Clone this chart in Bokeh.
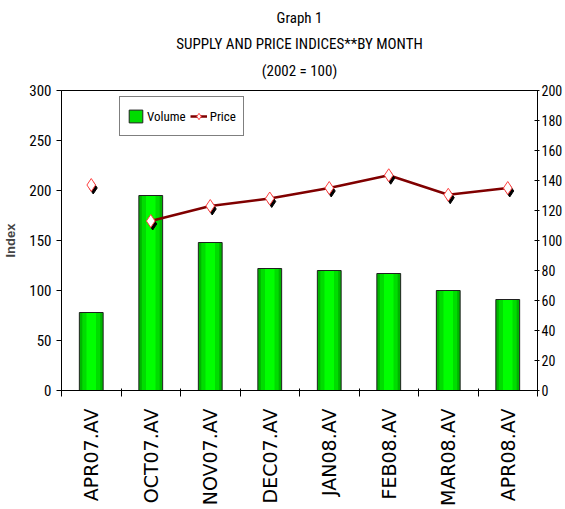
import math
from bokeh.plotting import figure
from bokeh.models import Range1d, LinearAxis, FixedTicker, Legend, LegendItem, Title
from bokeh.embed import file_html
from bokeh.resources import INLINE

# ---- data ----
months = ["APR07.AV", "OCT07.AV", "NOV07.AV", "DEC07.AV",
          "JAN08.AV", "FEB08.AV", "MAR08.AV", "APR08.AV"]
volume = [78, 195, 148, 122, 120, 117, 100, 91]
price = [137, 113, 123, 128, 135, 143.5, 130.5, 135]
left_ticks = [0, 50, 100, 150, 200, 250, 300]
right_ticks = [0, 20, 40, 60, 80, 100, 120, 140, 160, 180, 200]
title_lines = ["Graph 1", "SUPPLY AND PRICE INDICES**BY MONTH", "(2002 = 100)"]
y_label = "Index"
series_names = ["Volume", "Price"]

NARROW = "Roboto Condensed, Liberation Sans Narrow, DejaVu Sans Condensed, sans-serif"

n = len(months)
xs = list(range(1, n + 1))

p = figure(width=565, height=509, output_backend="svg", toolbar_location=None,
           x_range=Range1d(0.5, n + 0.5), y_range=Range1d(left_ticks[0], left_ticks[-1]),
           min_border_left=60, min_border_right=27, min_border_top=90,
           min_border_bottom=117)
p.extra_y_ranges = {"price": Range1d(right_ticks[0], right_ticks[-1])}
p.grid.visible = False
p.outline_line_color = "#000000"
p.outline_line_width = 1
p.background_fill_color = "white"
p.border_fill_color = "white"

# x axis: labels at category centres, tick marks at category boundaries
xa = p.xaxis[0]
xa.ticker = FixedTicker(ticks=xs, minor_ticks=[i + 0.5 for i in range(n + 1)])
xa.major_label_overrides = {x: m for x, m in zip(xs, months)}
xa.major_label_orientation = math.pi / 2
xa.major_tick_in = 0
xa.major_tick_out = 0
xa.minor_tick_in = 2
xa.minor_tick_out = 6
xa.minor_tick_line_color = "#000000"
xa.axis_line_color = "#000000"
xa.major_label_standoff = 12
xa.major_label_text_font = "DejaVu Sans"
xa.major_label_text_font_size = "19px"
xa.major_label_text_color = "#000000"

# left axis
ya = p.yaxis[0]
ya.ticker = FixedTicker(ticks=left_ticks)
ya.major_tick_in = 0
ya.major_tick_out = 5
ya.minor_tick_in = 0
ya.minor_tick_out = 0
ya.axis_line_color = "#000000"
ya.major_tick_line_color = "#000000"
ya.major_label_standoff = 5
ya.major_label_text_font = NARROW
ya.major_label_text_font_size = "15px"
ya.major_label_text_color = "#000000"
ya.axis_label = y_label
ya.axis_label_text_font = "Liberation Sans"
ya.axis_label_text_font_style = "bold"
ya.axis_label_text_font_size = "13px"
ya.axis_label_standoff = 8

# right axis
ra = LinearAxis(y_range_name="price", ticker=FixedTicker(ticks=right_ticks))
ra.major_tick_in = 3
ra.major_tick_out = 2
ra.minor_tick_in = 0
ra.minor_tick_out = 0
ra.axis_line_color = "#000000"
ra.major_tick_line_color = "#000000"
ra.major_label_standoff = 2
ra.major_label_text_font = NARROW
ra.major_label_text_font_size = "14px"
ra.major_label_text_color = "#000000"
p.add_layout(ra, "right")

# bars with a simple horizontal shading
bar_outer = p.vbar(x=xs, top=volume, width=0.4, bottom=0, fill_color="#00B400", line_color=None)
bar_mid = p.vbar(x=xs, top=volume, width=0.3, bottom=0, fill_color="#00DC00", line_color=None)
bar_inner = p.vbar(x=xs, top=volume, width=0.16, bottom=0, fill_color="#00FF00", line_color=None)
bar_edge = p.vbar(x=xs, top=volume, width=0.4, bottom=0, fill_color=None,
                  line_color="#202020", line_width=1)

# price line (not joined to the first month)
price_line = p.line(xs[1:], price[1:], y_range_name="price",
                    line_color="#800000", line_width=2.5)

# marker shadows (2px right, 3px down)
dx = 2 / 60.0
dy = 3 * (right_ticks[-1] - right_ticks[0]) / 302.0
p.scatter([x + dx for x in xs], [v - dy for v in price], y_range_name="price",
          marker="diamond", size=12, fill_color="#000000", line_color="#000000")
price_pts = p.scatter(xs, price, y_range_name="price", marker="diamond", size=13,
                      fill_color="white", line_color="#FF4040", line_width=1)

legend = Legend(items=[LegendItem(label=series_names[0], renderers=[bar_mid, bar_edge]),
                       LegendItem(label=series_names[1], renderers=[price_line, price_pts])],
                orientation="horizontal", location=(58, 254))
legend.border_line_color = "#000000"
legend.border_line_width = 1
legend.background_fill_color = "white"
legend.background_fill_alpha = 1
legend.label_text_font = NARROW
legend.label_text_font_size = "13px"
legend.label_text_color = "#000000"
legend.glyph_width = 17
legend.glyph_height = 16
legend.label_height = 24
legend.label_standoff = 3
legend.spacing = 4
legend.padding = 7
legend.margin = 0
p.add_layout(legend)

# three-line title, added nearest-to-plot first
title_align = ["bottom", "bottom", "top"]
title_standoff = [12, 0, 18]
for txt, va, so in reversed(list(zip(title_lines, title_align, title_standoff))):
    p.add_layout(Title(text=txt, align="center", vertical_align=va, text_font=NARROW,
                       text_font_size="15px", text_font_style="normal",
                       text_color="#000000", standoff=so), "above")

open("out.html", "w").write(file_html(p, INLINE))
